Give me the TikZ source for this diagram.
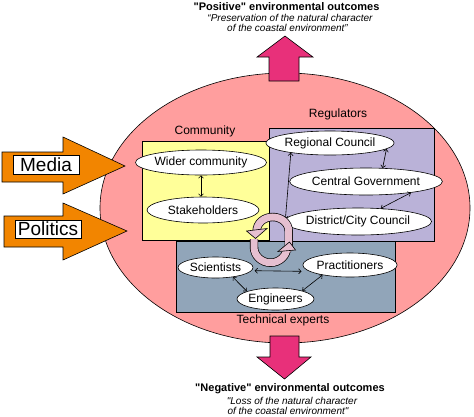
\documentclass[tikz,border=0pt]{standalone}
\usepackage{fontspec}
\setmainfont{Liberation Sans}
\usetikzlibrary{shapes.geometric,arrows.meta}
\definecolor{ellfill}{HTML}{FF9E9E}
\definecolor{magarrow}{HTML}{E8307A}
\definecolor{orangearrow}{HTML}{F28500}
\definecolor{commfill}{HTML}{FFFF99}
\definecolor{regfill}{HTML}{BAB2D8}
\definecolor{techfill}{HTML}{91A5B9}
\definecolor{cyclefill}{HTML}{E6BFD0}
\begin{document}
\begin{tikzpicture}[x=1pt,y=-1pt,
  oval/.style={ellipse,draw=black,line width=0.6pt,fill=white,inner sep=0pt,font=\fontsize{12}{14}\selectfont},
  grp/.style={draw=black,line width=0.8pt,inner sep=0pt,anchor=north west},
  grplabel/.style={font=\fontsize{12}{14}\selectfont,inner sep=0pt},
  dbl/.style={{Straight Barb[length=2.5pt,width=5pt]}-{Straight Barb[length=2.5pt,width=5pt]},line width=0.6pt},
  bigarrow/.style={draw=black,line width=0.6pt},
  arrowlabel/.style={draw=black,line width=0.6pt,fill=white,inner sep=0pt,font=\fontsize{19}{20}\selectfont},
  headline/.style={inner sep=0pt,font=\fontsize{11}{12}\selectfont\bfseries},
  subline/.style={inner sep=0pt,font=\fontsize{10}{11}\selectfont\itshape},
  band/.style={line width=8.4pt,draw=black},
  bandin/.style={line width=7pt,draw=cyclefill},
  bandhead/.style={fill=cyclefill,draw=black,line width=0.6pt,line join=miter},
]
\useasboundingbox (0,0) rectangle (474,416);

% outer ellipse
\node[ellipse,draw=black,line width=0.6pt,fill=ellfill,minimum width=370pt,minimum height=270pt,inner sep=0pt] (outer) at (285,208) {};

% outcome arrows
\draw[bigarrow,fill=magarrow] (269,81) -- (269,57) -- (257,57) -- (285,36) -- (313,57) -- (299,57) -- (299,81) -- cycle;
\draw[bigarrow,fill=magarrow] (270,336) -- (299,336) -- (299,357) -- (311,357) -- (284.5,379) -- (257,357) -- (270,357) -- cycle;

% influence arrows
\draw[bigarrow,fill=orangearrow] (2,152) -- (63,152) -- (63,137) -- (125,166) -- (63,194) -- (63,182) -- (2,182) -- cycle;
\draw[bigarrow,fill=orangearrow] (4,216) -- (63,216) -- (63,203) -- (127,231) -- (63,260) -- (63,247) -- (4,247) -- cycle;
\node[arrowlabel,minimum width=66pt,minimum height=19pt] (media) at (46,164.5) {Media};
\node[arrowlabel,minimum width=66pt,minimum height=18pt] (politics) at (48,229) {Politics};

% outcome texts
\node[headline] (pos1) at (286.5,7) {\textquotedbl Positive\textquotedbl{} environmental outcomes};
\node[subline] (pos2) at (290,17.5) {“Preservation of the natural character};
\node[subline] (pos3) at (287.5,27.5) {of the coastal environment”};
\node[headline] (neg1) at (290,388.5) {\textquotedbl Negative\textquotedbl{} environmental outcomes};
\node[subline] (neg2) at (292,400.5) {\textquotedbl Loss of the natural character};
\node[subline] (neg3) at (288,410.5) {of the coastal environment\textquotedbl};

% group boxes
\node[grp,fill=commfill,minimum width=127pt,minimum height=99pt] (comm) at (142,141) {};
\node[grp,fill=regfill,minimum width=165pt,minimum height=113pt] (reg) at (269,128) {};
\node[grp,fill=techfill,minimum width=219pt,minimum height=71pt] (tech) at (176,241) {};
\node[grplabel] (commlab) at (205,131) {Community};
\node[grplabel] (reglab) at (338,114) {Regulators};
\node[grplabel] (techlab) at (283,320) {Technical experts};

% community
\node[oval,minimum width=112pt,minimum height=25pt] (wider) at (201,162.5) {Wider community};
\node[oval,minimum width=112pt,minimum height=26pt] (stake) at (203,210) {Stakeholders};
\draw[dbl] (wider.south) -- (wider.south |- stake.north);

% regulators
\node[oval,minimum width=119pt,minimum height=24pt] (regional) at (330,143) {Regional Council};
\node[oval,minimum width=134pt,minimum height=27pt] (central) at (366,181.5) {Central Government};
\node[oval,minimum width=130pt,minimum height=27pt] (district) at (358,221.5) {District/City Council};
\draw[dbl] (regional.-6.4) -- (central.39);
\draw[dbl] (central.-14.6) -- (district.30);
\draw[dbl] (regional.194) -- (district.178);

% technical experts
\node[oval,minimum width=75pt,minimum height=21pt] (scient) at (215.5,267.5) {Scientists};
\node[oval,minimum width=88pt,minimum height=24pt] (pract) at (350,265) {Practitioners};
\node[oval,minimum width=77pt,minimum height=22pt] (eng) at (275.5,299) {Engineers};
\draw[dbl,shorten <=3pt,shorten >=8pt] (scient.-5.6) -- (pract.189);
\draw[dbl] (scient.-29.7) -- (eng.165);
\draw[dbl] (pract.200) -- (eng.17);

% cycle arrows
\draw[band] (288.7,246) -- (288.7,231) arc[start angle=0,end angle=-180,x radius=16,y radius=14];
\draw[bandin] (288.7,246) -- (288.7,231) arc[start angle=0,end angle=-180,x radius=16,y radius=14];
\draw[band] (254,239) -- (254,247) arc[start angle=180,end angle=0,x radius=16.5,y radius=15.7] -- (287,252);
\draw[bandin] (254,239) -- (254,247) arc[start angle=180,end angle=0,x radius=16.5,y radius=15.7] -- (287,252);
\draw[bandhead] (246.5,231) -- (267,228.5) -- (255.5,238.5) -- cycle;
\draw[bandhead] (278,251.5) -- (295.5,250) -- (289.5,242) -- cycle;
\end{tikzpicture}
\end{document}
